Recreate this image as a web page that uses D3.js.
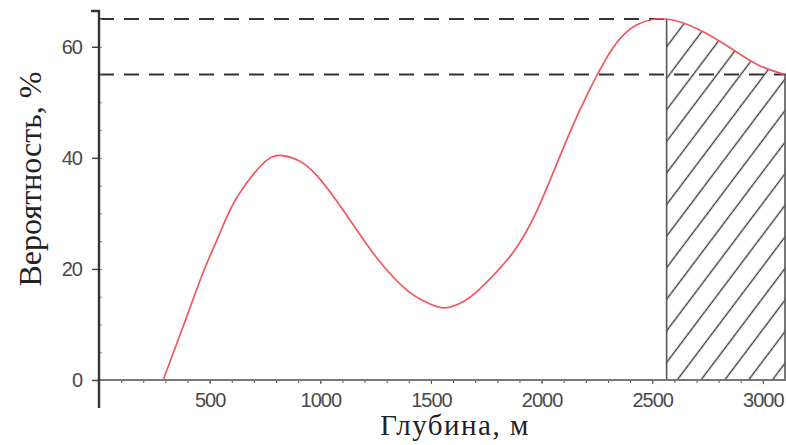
<!DOCTYPE html>
<html>
<head>
<meta charset="utf-8">
<script src="https://cdn.jsdelivr.net/npm/d3@7"></script>
<style>
  body { margin: 0; background: #fff; }
  svg { display: block; }
</style>
</head>
<body>
<div id="chart"></div>
<script>
// Probability vs depth, hatched tail past the peak
const depthM = [290, 379, 470, 533, 592, 668, 759, 831, 908, 985, 1075, 1165, 1269, 1391, 1480, 1563, 1650, 1721, 1870, 1978, 2051, 2127, 2204, 2294, 2367, 2443, 2565, 2715, 2864, 2985, 3100];
const probability = [0, 9.5, 19.3, 25.2, 30.6, 35.5, 39.6, 40.4, 39.4, 36.8, 32.2, 27, 21.3, 16.2, 14, 13, 14.2, 16.4, 22.9, 30.4, 37.2, 44.5, 51.2, 58, 62, 64.2, 65, 63, 59.5, 56.6, 55];
const xTicks = [500, 1000, 1500, 2000, 2500, 3000];
const yTicks = [0, 20, 40, 60];
const levels = [65, 55];
const hatchFrom = 2565;

const W = 786, H = 445;
const data = depthM.map((d, i) => ({ depth: d, p: probability[i] }));

const svg = d3.select("#chart").append("svg")
    .attr("width", W).attr("height", H);

const x = d3.scaleLinear().domain([0, 3100]).range([99, 785]);
const y = d3.scaleLinear().domain([0, 65]).range([380, 19]);

const defs = svg.append("defs");
defs.append("pattern")
    .attr("id", "hatch")
    .attr("patternUnits", "userSpaceOnUse")
    .attr("width", 19).attr("height", 19)
    .attr("patternTransform", "rotate(37)")
    .append("line")
    .attr("x1", 9.5).attr("y1", -2).attr("x2", 9.5).attr("y2", 21)
    .attr("stroke", "#3a3a3a").attr("stroke-width", 1.4);

defs.append("clipPath").attr("id", "tail")
    .append("rect")
    .attr("x", x(hatchFrom)).attr("y", 0)
    .attr("width", x(3100) - x(hatchFrom)).attr("height", H);

const curve = d3.curveNatural;

const area = d3.area()
    .x(d => x(d.depth)).y0(y(0)).y1(d => y(d.p))
    .curve(curve);

svg.append("path")
    .datum(data)
    .attr("d", area)
    .attr("clip-path", "url(#tail)")
    .attr("fill", "url(#hatch)");

// borders of hatched area
[hatchFrom, depthM[depthM.length - 1]].forEach(dep => {
    const p = probability[depthM.indexOf(dep)];
    svg.append("line")
        .attr("x1", x(dep)).attr("x2", x(dep))
        .attr("y1", y(0)).attr("y2", y(p))
        .attr("stroke", "#555").attr("stroke-width", 1.6);
});

// dashed reference lines
svg.append("line")
    .attr("x1", x(0)).attr("x2", x(hatchFrom))
    .attr("y1", y(levels[0])).attr("y2", y(levels[0]))
    .attr("stroke", "#333").attr("stroke-width", 2)
    .attr("stroke-dasharray", "15,10");
svg.append("line")
    .attr("x1", x(0)).attr("x2", W)
    .attr("y1", y(levels[1])).attr("y2", y(levels[1]))
    .attr("stroke", "#333").attr("stroke-width", 2)
    .attr("stroke-dasharray", "15,10");

const tickFont = "'Liberation Sans Narrow', 'Liberation Sans', sans-serif";

// x axis
const xMinor = svg.append("g")
    .attr("transform", `translate(0,${y(0)})`)
    .call(d3.axisBottom(x).tickValues(d3.range(100, 3100, 100)).tickSize(3).tickFormat(""));
xMinor.select(".domain").remove();
xMinor.selectAll("line").attr("stroke", "#555");

const xAxis = svg.append("g")
    .attr("transform", `translate(0,${y(0)})`)
    .call(d3.axisBottom(x).tickValues(xTicks).tickSize(4).tickPadding(9).tickFormat(d3.format("d")));
xAxis.select(".domain").remove();
xAxis.selectAll("line").attr("stroke", "#555");
xAxis.selectAll("text")
    .attr("font-family", tickFont)
    .attr("font-size", 20)
    .attr("letter-spacing", -1)
    .attr("fill", "#4a4a4a");

svg.append("line")
    .attr("x1", x(0)).attr("x2", W)
    .attr("y1", y(0)).attr("y2", y(0))
    .attr("stroke", "#777").attr("stroke-width", 2.2);

// y axis
const yMinor = svg.append("g")
    .attr("transform", `translate(${x(0)},0)`)
    .call(d3.axisRight(y).tickValues(d3.range(5, 66, 5)).tickSize(3).tickFormat(""));
yMinor.select(".domain").remove();
yMinor.selectAll("line").attr("stroke", "#888");

const yAxis = svg.append("g")
    .attr("transform", `translate(${x(0)},0)`)
    .call(d3.axisLeft(y).tickValues(yTicks).tickSize(7).tickPadding(10));
yAxis.select(".domain").remove();
yAxis.selectAll("line").attr("stroke", "#444").attr("stroke-width", 1.5);
yAxis.selectAll("text")
    .attr("font-family", tickFont)
    .attr("font-size", 20)
    .attr("letter-spacing", -1)
    .attr("fill", "#4a4a4a");

svg.append("path")
    .attr("d", `M${x(0) - 8},11 H${x(0)} V408`)
    .attr("fill", "none")
    .attr("stroke", "#333").attr("stroke-width", 2.4);

// curve
const line = d3.line()
    .x(d => x(d.depth)).y(d => y(d.p))
    .curve(curve);

svg.append("path")
    .datum(data)
    .attr("d", line)
    .attr("fill", "none")
    .attr("stroke", "#f0585e")
    .attr("stroke-width", 1.7);

// titles
svg.append("text")
    .attr("x", 455).attr("y", 435)
    .attr("text-anchor", "middle")
    .attr("font-family", "'Liberation Serif', serif")
    .attr("font-size", 29)
    .attr("letter-spacing", 1.5)
    .attr("fill", "#222")
    .text("Глубина, м");

svg.append("text")
    .attr("transform", "translate(41,179) rotate(-90)")
    .attr("text-anchor", "middle")
    .attr("font-family", "'Liberation Serif', serif")
    .attr("font-size", 32)
    .attr("fill", "#222")
    .text("Вероятность, %");
</script>
</body>
</html>
